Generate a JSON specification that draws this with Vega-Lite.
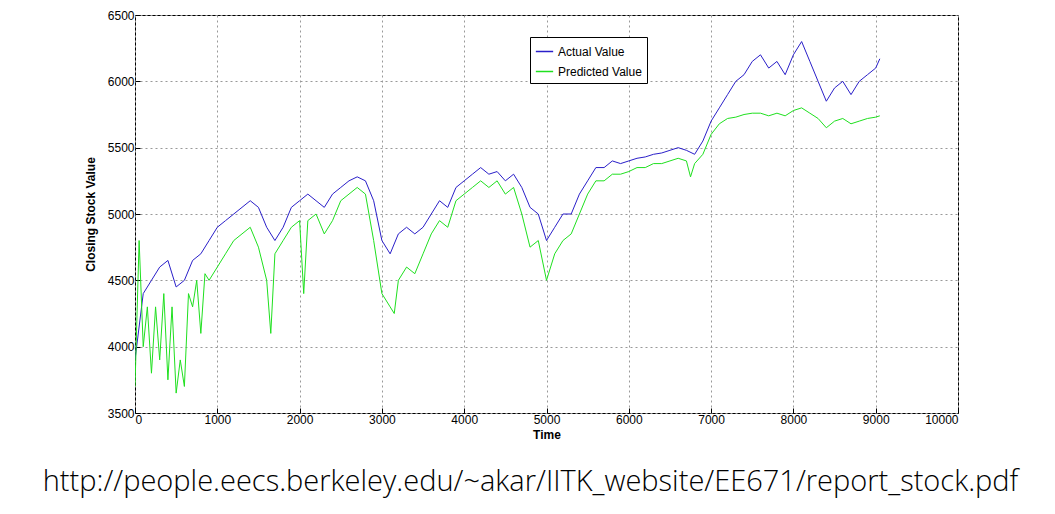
{
  "$schema": "https://vega.github.io/schema/vega-lite/v6.json",
  "width": 823,
  "height": 398,
  "autosize": "none",
  "padding": {"left": 135, "top": 15, "right": 97, "bottom": 101},
  "background": "white",
  "config": {
    "font": "Liberation Sans",
    "view": {"stroke": "black", "strokeWidth": 1},
    "axis": {"gridDash": [2, 3], "gridColor": "#999", "gridOpacity": 1, "domain": false, "tickSize": -5, "tickColor": "black", "labelColor": "black", "labelFontSize": 12, "titleFontSize": 12, "titleColor": "black", "labelPadding": 10}
  },
  "title": {"text": "http://people.eecs.berkeley.edu/~akar/IITK_website/EE671/report_stock.pdf", "orient": "bottom", "anchor": "middle", "offset": 28, "dx": -16, "fontSize": 29, "fontWeight": 300, "font": "Open Sans", "color": "black"},
  "data": {"values": [
    {"t":0,"v":3900,"s":"Actual Value"},{"t":100,"v":4400,"s":"Actual Value"},{"t":200,"v":4500,"s":"Actual Value"},{"t":300,"v":4600,"s":"Actual Value"},{"t":400,"v":4650,"s":"Actual Value"},{"t":500,"v":4450,"s":"Actual Value"},{"t":600,"v":4500,"s":"Actual Value"},{"t":700,"v":4650,"s":"Actual Value"},{"t":800,"v":4700,"s":"Actual Value"},{"t":900,"v":4800,"s":"Actual Value"},{"t":1000,"v":4900,"s":"Actual Value"},{"t":1100,"v":4950,"s":"Actual Value"},{"t":1200,"v":5000,"s":"Actual Value"},{"t":1300,"v":5050,"s":"Actual Value"},{"t":1400,"v":5100,"s":"Actual Value"},{"t":1500,"v":5050,"s":"Actual Value"},{"t":1600,"v":4900,"s":"Actual Value"},{"t":1700,"v":4800,"s":"Actual Value"},{"t":1800,"v":4900,"s":"Actual Value"},{"t":1900,"v":5050,"s":"Actual Value"},{"t":2000,"v":5100,"s":"Actual Value"},{"t":2100,"v":5150,"s":"Actual Value"},{"t":2200,"v":5100,"s":"Actual Value"},{"t":2300,"v":5050,"s":"Actual Value"},{"t":2400,"v":5150,"s":"Actual Value"},{"t":2500,"v":5200,"s":"Actual Value"},{"t":2600,"v":5250,"s":"Actual Value"},{"t":2700,"v":5280,"s":"Actual Value"},{"t":2800,"v":5250,"s":"Actual Value"},{"t":2900,"v":5100,"s":"Actual Value"},{"t":3000,"v":4800,"s":"Actual Value"},{"t":3100,"v":4700,"s":"Actual Value"},{"t":3200,"v":4850,"s":"Actual Value"},{"t":3300,"v":4900,"s":"Actual Value"},{"t":3400,"v":4850,"s":"Actual Value"},{"t":3500,"v":4900,"s":"Actual Value"},{"t":3600,"v":5000,"s":"Actual Value"},{"t":3700,"v":5100,"s":"Actual Value"},{"t":3800,"v":5050,"s":"Actual Value"},{"t":3900,"v":5200,"s":"Actual Value"},{"t":4000,"v":5250,"s":"Actual Value"},{"t":4100,"v":5300,"s":"Actual Value"},{"t":4200,"v":5350,"s":"Actual Value"},{"t":4300,"v":5300,"s":"Actual Value"},{"t":4400,"v":5320,"s":"Actual Value"},{"t":4500,"v":5250,"s":"Actual Value"},{"t":4600,"v":5300,"s":"Actual Value"},{"t":4700,"v":5200,"s":"Actual Value"},{"t":4800,"v":5050,"s":"Actual Value"},{"t":4900,"v":5000,"s":"Actual Value"},{"t":5000,"v":4800,"s":"Actual Value"},{"t":5100,"v":4900,"s":"Actual Value"},{"t":5200,"v":5000,"s":"Actual Value"},{"t":5300,"v":5000,"s":"Actual Value"},{"t":5400,"v":5150,"s":"Actual Value"},{"t":5500,"v":5250,"s":"Actual Value"},{"t":5600,"v":5350,"s":"Actual Value"},{"t":5700,"v":5350,"s":"Actual Value"},{"t":5800,"v":5400,"s":"Actual Value"},{"t":5900,"v":5380,"s":"Actual Value"},{"t":6000,"v":5400,"s":"Actual Value"},{"t":6100,"v":5420,"s":"Actual Value"},{"t":6200,"v":5430,"s":"Actual Value"},{"t":6300,"v":5450,"s":"Actual Value"},{"t":6400,"v":5460,"s":"Actual Value"},{"t":6500,"v":5480,"s":"Actual Value"},{"t":6600,"v":5500,"s":"Actual Value"},{"t":6700,"v":5480,"s":"Actual Value"},{"t":6800,"v":5450,"s":"Actual Value"},{"t":6900,"v":5550,"s":"Actual Value"},{"t":7000,"v":5700,"s":"Actual Value"},{"t":7100,"v":5800,"s":"Actual Value"},{"t":7200,"v":5900,"s":"Actual Value"},{"t":7300,"v":6000,"s":"Actual Value"},{"t":7400,"v":6050,"s":"Actual Value"},{"t":7500,"v":6150,"s":"Actual Value"},{"t":7600,"v":6200,"s":"Actual Value"},{"t":7700,"v":6100,"s":"Actual Value"},{"t":7800,"v":6150,"s":"Actual Value"},{"t":7900,"v":6050,"s":"Actual Value"},{"t":8000,"v":6200,"s":"Actual Value"},{"t":8100,"v":6300,"s":"Actual Value"},{"t":8200,"v":6150,"s":"Actual Value"},{"t":8300,"v":6000,"s":"Actual Value"},{"t":8400,"v":5850,"s":"Actual Value"},{"t":8500,"v":5950,"s":"Actual Value"},{"t":8600,"v":6000,"s":"Actual Value"},{"t":8700,"v":5900,"s":"Actual Value"},{"t":8800,"v":6000,"s":"Actual Value"},{"t":8900,"v":6050,"s":"Actual Value"},{"t":9000,"v":6100,"s":"Actual Value"},{"t":9050,"v":6170,"s":"Actual Value"},
    {"t":0,"v":3700,"s":"Predicted Value"},{"t":50,"v":4800,"s":"Predicted Value"},{"t":100,"v":4000,"s":"Predicted Value"},{"t":150,"v":4300,"s":"Predicted Value"},{"t":200,"v":3800,"s":"Predicted Value"},{"t":250,"v":4300,"s":"Predicted Value"},{"t":300,"v":3900,"s":"Predicted Value"},{"t":350,"v":4400,"s":"Predicted Value"},{"t":400,"v":3750,"s":"Predicted Value"},{"t":450,"v":4300,"s":"Predicted Value"},{"t":500,"v":3650,"s":"Predicted Value"},{"t":550,"v":3900,"s":"Predicted Value"},{"t":600,"v":3700,"s":"Predicted Value"},{"t":650,"v":4400,"s":"Predicted Value"},{"t":700,"v":4300,"s":"Predicted Value"},{"t":750,"v":4500,"s":"Predicted Value"},{"t":800,"v":4100,"s":"Predicted Value"},{"t":850,"v":4550,"s":"Predicted Value"},{"t":900,"v":4500,"s":"Predicted Value"},{"t":1000,"v":4600,"s":"Predicted Value"},{"t":1100,"v":4700,"s":"Predicted Value"},{"t":1200,"v":4800,"s":"Predicted Value"},{"t":1300,"v":4850,"s":"Predicted Value"},{"t":1400,"v":4900,"s":"Predicted Value"},{"t":1500,"v":4750,"s":"Predicted Value"},{"t":1600,"v":4500,"s":"Predicted Value"},{"t":1650,"v":4100,"s":"Predicted Value"},{"t":1700,"v":4700,"s":"Predicted Value"},{"t":1800,"v":4800,"s":"Predicted Value"},{"t":1900,"v":4900,"s":"Predicted Value"},{"t":2000,"v":4950,"s":"Predicted Value"},{"t":2050,"v":4400,"s":"Predicted Value"},{"t":2100,"v":4950,"s":"Predicted Value"},{"t":2200,"v":5000,"s":"Predicted Value"},{"t":2300,"v":4850,"s":"Predicted Value"},{"t":2400,"v":4950,"s":"Predicted Value"},{"t":2500,"v":5100,"s":"Predicted Value"},{"t":2600,"v":5150,"s":"Predicted Value"},{"t":2700,"v":5200,"s":"Predicted Value"},{"t":2800,"v":5150,"s":"Predicted Value"},{"t":2900,"v":4800,"s":"Predicted Value"},{"t":3000,"v":4400,"s":"Predicted Value"},{"t":3100,"v":4300,"s":"Predicted Value"},{"t":3150,"v":4250,"s":"Predicted Value"},{"t":3200,"v":4500,"s":"Predicted Value"},{"t":3300,"v":4600,"s":"Predicted Value"},{"t":3400,"v":4550,"s":"Predicted Value"},{"t":3500,"v":4700,"s":"Predicted Value"},{"t":3600,"v":4850,"s":"Predicted Value"},{"t":3700,"v":4950,"s":"Predicted Value"},{"t":3800,"v":4900,"s":"Predicted Value"},{"t":3900,"v":5100,"s":"Predicted Value"},{"t":4000,"v":5150,"s":"Predicted Value"},{"t":4100,"v":5200,"s":"Predicted Value"},{"t":4200,"v":5250,"s":"Predicted Value"},{"t":4300,"v":5200,"s":"Predicted Value"},{"t":4400,"v":5250,"s":"Predicted Value"},{"t":4500,"v":5150,"s":"Predicted Value"},{"t":4600,"v":5200,"s":"Predicted Value"},{"t":4700,"v":5000,"s":"Predicted Value"},{"t":4800,"v":4750,"s":"Predicted Value"},{"t":4900,"v":4800,"s":"Predicted Value"},{"t":5000,"v":4500,"s":"Predicted Value"},{"t":5100,"v":4700,"s":"Predicted Value"},{"t":5200,"v":4800,"s":"Predicted Value"},{"t":5300,"v":4850,"s":"Predicted Value"},{"t":5400,"v":5000,"s":"Predicted Value"},{"t":5500,"v":5150,"s":"Predicted Value"},{"t":5600,"v":5250,"s":"Predicted Value"},{"t":5700,"v":5250,"s":"Predicted Value"},{"t":5800,"v":5300,"s":"Predicted Value"},{"t":5900,"v":5300,"s":"Predicted Value"},{"t":6000,"v":5320,"s":"Predicted Value"},{"t":6100,"v":5350,"s":"Predicted Value"},{"t":6200,"v":5350,"s":"Predicted Value"},{"t":6300,"v":5380,"s":"Predicted Value"},{"t":6400,"v":5380,"s":"Predicted Value"},{"t":6500,"v":5400,"s":"Predicted Value"},{"t":6600,"v":5420,"s":"Predicted Value"},{"t":6700,"v":5400,"s":"Predicted Value"},{"t":6750,"v":5280,"s":"Predicted Value"},{"t":6800,"v":5380,"s":"Predicted Value"},{"t":6900,"v":5450,"s":"Predicted Value"},{"t":7000,"v":5600,"s":"Predicted Value"},{"t":7100,"v":5680,"s":"Predicted Value"},{"t":7200,"v":5720,"s":"Predicted Value"},{"t":7300,"v":5730,"s":"Predicted Value"},{"t":7400,"v":5750,"s":"Predicted Value"},{"t":7500,"v":5760,"s":"Predicted Value"},{"t":7600,"v":5760,"s":"Predicted Value"},{"t":7700,"v":5740,"s":"Predicted Value"},{"t":7800,"v":5760,"s":"Predicted Value"},{"t":7900,"v":5740,"s":"Predicted Value"},{"t":8000,"v":5780,"s":"Predicted Value"},{"t":8100,"v":5800,"s":"Predicted Value"},{"t":8200,"v":5760,"s":"Predicted Value"},{"t":8300,"v":5720,"s":"Predicted Value"},{"t":8400,"v":5650,"s":"Predicted Value"},{"t":8500,"v":5700,"s":"Predicted Value"},{"t":8600,"v":5720,"s":"Predicted Value"},{"t":8700,"v":5680,"s":"Predicted Value"},{"t":8800,"v":5700,"s":"Predicted Value"},{"t":8900,"v":5720,"s":"Predicted Value"},{"t":9000,"v":5730,"s":"Predicted Value"},{"t":9050,"v":5740,"s":"Predicted Value"}
  ]},
  "mark": {"type": "line", "strokeWidth": 1, "clip": true},
  "encoding": {
    "x": {"field": "t", "type": "quantitative", "title": "Time", "scale": {"domain": [0, 10000], "nice": false}, "axis": {"tickCount": 10, "format": "d", "titleFontWeight": "bold", "titlePadding": 4, "labelPadding": 6}},
    "y": {"field": "v", "type": "quantitative", "title": "Closing Stock Value", "scale": {"domain": [3500, 6500], "nice": false, "zero": false}, "axis": {"tickCount": 6, "format": "d", "titleFontWeight": "bold", "titlePadding": 10, "labelPadding": 6}},
    "color": {"field": "s", "type": "nominal", "scale": {"domain": ["Actual Value", "Predicted Value"], "range": ["#2a1fc9", "#1fe01f"]},
      "legend": {"title": null, "orient": "none", "legendX": 395, "legendY": 22, "symbolType": "stroke", "symbolStrokeWidth": 1.5, "symbolSize": 300, "labelFontSize": 12, "labelColor": "black", "strokeColor": "black", "fillColor": "white", "padding": 5, "rowPadding": 4}}
  }
}
